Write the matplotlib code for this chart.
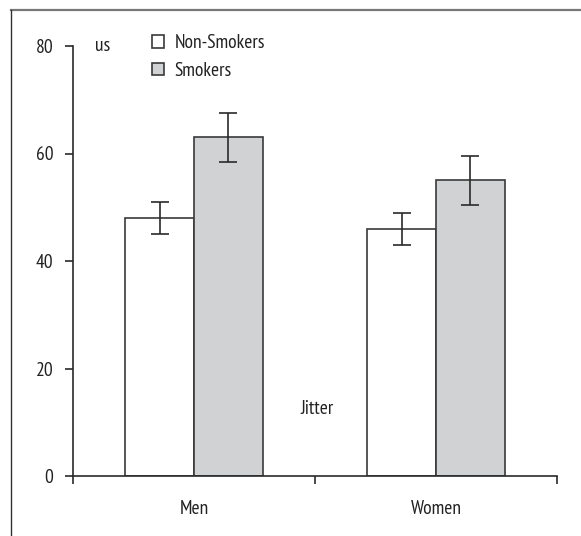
import matplotlib
matplotlib.use("Agg")
import matplotlib.pyplot as plt
from matplotlib.patches import Patch
from matplotlib.lines import Line2D
import numpy as np

plt.rcParams['font.family'] = ['PT Sans Narrow', 'DejaVu Sans']

groups = ['Men', 'Women']
series = ['Non-Smokers', 'Smokers']
means = {'Non-Smokers': [48, 46], 'Smokers': [63, 55]}
errors = {'Non-Smokers': [3, 3], 'Smokers': [4.6, 4.6]}
colors = {'Non-Smokers': 'white', 'Smokers': '#d1d2d4'}
yticks = [0, 20, 40, 60, 80]

W, H = 581, 536
FS = 14
fig = plt.figure(figsize=(W / 100, H / 100), dpi=100)
ax = fig.add_axes([73 / W, (H - 476) / H, (557 - 73) / W, (476 - 46) / H])

centers = np.array([0.5, 1.5])
width = 0.285
for i, s in enumerate(series):
    x = centers + (i - 0.5) * width
    ax.bar(x, means[s], width, color=colors[s], edgecolor='#3a3a3a', linewidth=1.2, zorder=2)
    ax.errorbar(x, means[s], yerr=errors[s], fmt='none', ecolor='#2a2a2a',
                elinewidth=1.2, capsize=6.5, capthick=1.2, zorder=3)

ax.set_xlim(0, 2)
ax.set_ylim(0, 80)
ax.set_yticks(yticks)
ax.set_xticks([0, 1, 2])
ax.set_xticklabels([])
ax.set_xticks(centers, minor=True)
ax.set_xticklabels(groups, minor=True)
ax.tick_params(axis='x', which='minor', length=0, pad=17, labelsize=FS, labelcolor='#222222')
ax.tick_params(axis='x', which='major', length=6, width=1.2, color='#2a2a2a', direction='out')
ax.tick_params(axis='y', length=6, width=1.2, color='#2a2a2a', pad=8, labelsize=FS,
               labelcolor='#222222')
for side in ['top', 'right']:
    ax.spines[side].set_visible(False)
for side in ['left', 'bottom']:
    ax.spines[side].set_linewidth(1.2)
    ax.spines[side].set_color('#2a2a2a')

ax.text(0.09, 80, 'us', ha='left', va='center', fontsize=FS, color='#222222')
ax.text(1.01, 12.5, 'Jitter', ha='center', va='center', fontsize=FS, color='#222222')

handles = [Patch(facecolor=colors[s], edgecolor='#3a3a3a', linewidth=1.2) for s in series]
ax.legend(handles, series, loc='upper left', bbox_to_anchor=(0.163, 1.027), frameon=False,
          handlelength=0.62, handleheight=0.62, handletextpad=0.55, labelspacing=0.48,
          fontsize=FS, borderaxespad=0, borderpad=0, labelcolor='#222222')

# partial frame around the figure (top and left edges)
fig.add_artist(Line2D([11 / W, 1], [1 - 10 / H, 1 - 10 / H], transform=fig.transFigure,
                      color='#777777', linewidth=1.6))
fig.add_artist(Line2D([11 / W, 11 / W], [0, 1 - 10 / H], transform=fig.transFigure,
                      color='#333333', linewidth=1.0))

fig.savefig('out.png', dpi=100)
